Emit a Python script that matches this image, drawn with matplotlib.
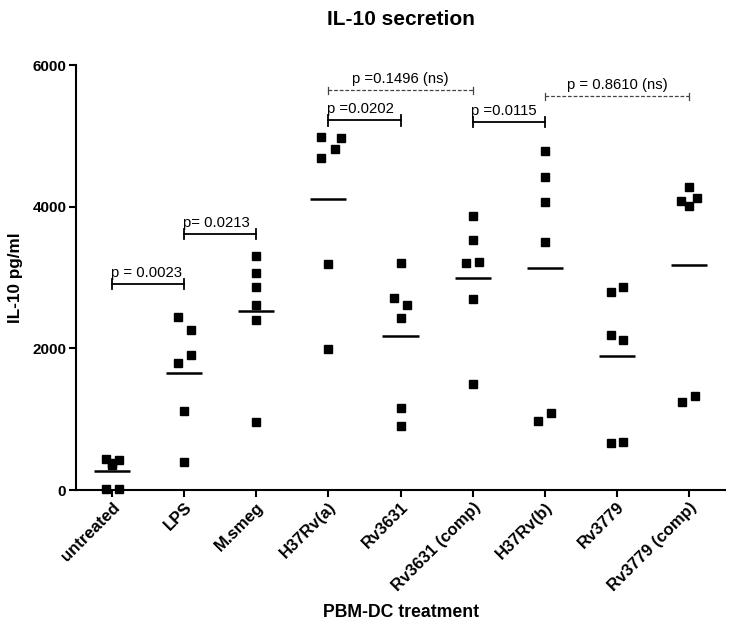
import numpy as np
import matplotlib.pyplot as plt

plt.rcParams['font.family'] = ['Liberation Sans', 'DejaVu Sans']

groups = ['untreated', 'LPS', 'M.smeg', 'H37Rv(a)', 'Rv3631', 'Rv3631 (comp)',
          'H37Rv(b)', 'Rv3779', 'Rv3779 (comp)']

# IL-10 pg/ml, six donors per treatment
values = [
    [440, 430, 380, 350, 20, 15],
    [2440, 2253, 1911, 1793, 1112, 394],
    [3299, 3060, 2872, 2605, 2403, 953],
    [4984, 4975, 4811, 4693, 3192, 1990],
    [3210, 2713, 2615, 2426, 1164, 901],
    [3862, 3530, 3201, 3215, 2699, 1492],
    [4787, 4417, 4060, 3496, 976, 1088],
    [2863, 2792, 2192, 2122, 666, 676],
    [4271, 4074, 4116, 4013, 1243, 1333],
]
# horizontal scatter of overlapping dots
jitter = [
    [-0.08, 0.09, 0.0, 0.0, -0.08, 0.09],
    [-0.085, 0.095, 0.095, -0.085, 0.0, 0.0],
    [0, 0, 0, 0, 0, 0],
    [-0.1, 0.175, 0.085, -0.1, 0.0, 0.0],
    [0.0, -0.09, 0.09, 0.0, 0.0, 0.0],
    [0.0, 0.0, -0.09, 0.09, 0.0, 0.0],
    [0.0, 0.0, 0.0, 0.0, -0.09, 0.09],
    [0.09, -0.08, -0.08, 0.09, -0.08, 0.09],
    [0.0, -0.115, 0.11, 0.0, -0.09, 0.085],
]

# comparisons: (from, to, height, label, significant)
comparisons = [
    (0, 1, 2910, 'p = 0.0023', True),
    (1, 2, 3614, 'p= 0.0213', True),
    (3, 4, 5219, 'p =0.0202', True),
    (3, 5, 5642, 'p =0.1496 (ns)', False),
    (5, 6, 5196, 'p =0.0115', True),
    (6, 8, 5562, 'p = 0.8610 (ns)', False),
]

fig = plt.figure(figsize=(7.35, 6.27), dpi=100)
ax = fig.add_axes([0.1034, 0.2185, 0.883, 0.6778])

for i, (vals, jit) in enumerate(zip(values, jitter)):
    xs = i + np.array(jit)
    ax.plot(xs, vals, 's', color='black', markersize=6.3, clip_on=False, zorder=3)
    m = np.mean(vals)
    ax.plot([i - 0.25, i + 0.25], [m, m], color='black', lw=1.8, solid_capstyle='butt')

for a, b, h, label, sig in comparisons:
    if sig:
        ax.plot([a, b], [h, h], color='black', lw=1.3)
        for xx in (a, b):
            ax.plot([xx, xx], [h - 75, h + 75], color='black', lw=1.3)
        ax.annotate(label, (a, h), xytext=(-1, 3), textcoords='offset points',
                    ha='left', va='bottom', fontsize=10.7)
    else:
        ax.plot([a, b], [h, h], color='#444444', lw=0.9, ls=(0, (3, 1.5)))
        for xx in (a, b):
            ax.plot([xx, xx], [h - 50, h + 50], color='#444444', lw=0.9)
        ax.annotate(label, ((a + b) / 2, h), xytext=(0, 3), textcoords='offset points',
                    ha='center', va='bottom', fontsize=10.7)

ax.set_xlim(-0.5, 8.5)
ax.set_ylim(0, 6000)
ax.set_yticks([0, 2000, 4000, 6000])
ax.set_xticks(range(len(groups)))
ax.set_xticklabels(groups, rotation=45, ha='right', rotation_mode='anchor',
                   fontsize=12, fontweight='bold')
for lab in ax.get_yticklabels():
    lab.set_fontsize(11)
    lab.set_fontweight('bold')

ax.spines['top'].set_visible(False)
ax.spines['right'].set_visible(False)
ax.spines['left'].set_linewidth(1.5)
ax.spines['bottom'].set_linewidth(1.5)
ax.tick_params(width=1.5, length=5, pad=2)

ax.set_ylabel('IL-10 pg/ml', fontsize=12.3, fontweight='bold', labelpad=7)
ax.set_xlabel('PBM-DC treatment', fontsize=12.7, fontweight='bold', labelpad=7)
ax.set_title('IL-10 secretion', fontsize=15, fontweight='bold', pad=29)

fig.savefig('out.png', dpi=100)
